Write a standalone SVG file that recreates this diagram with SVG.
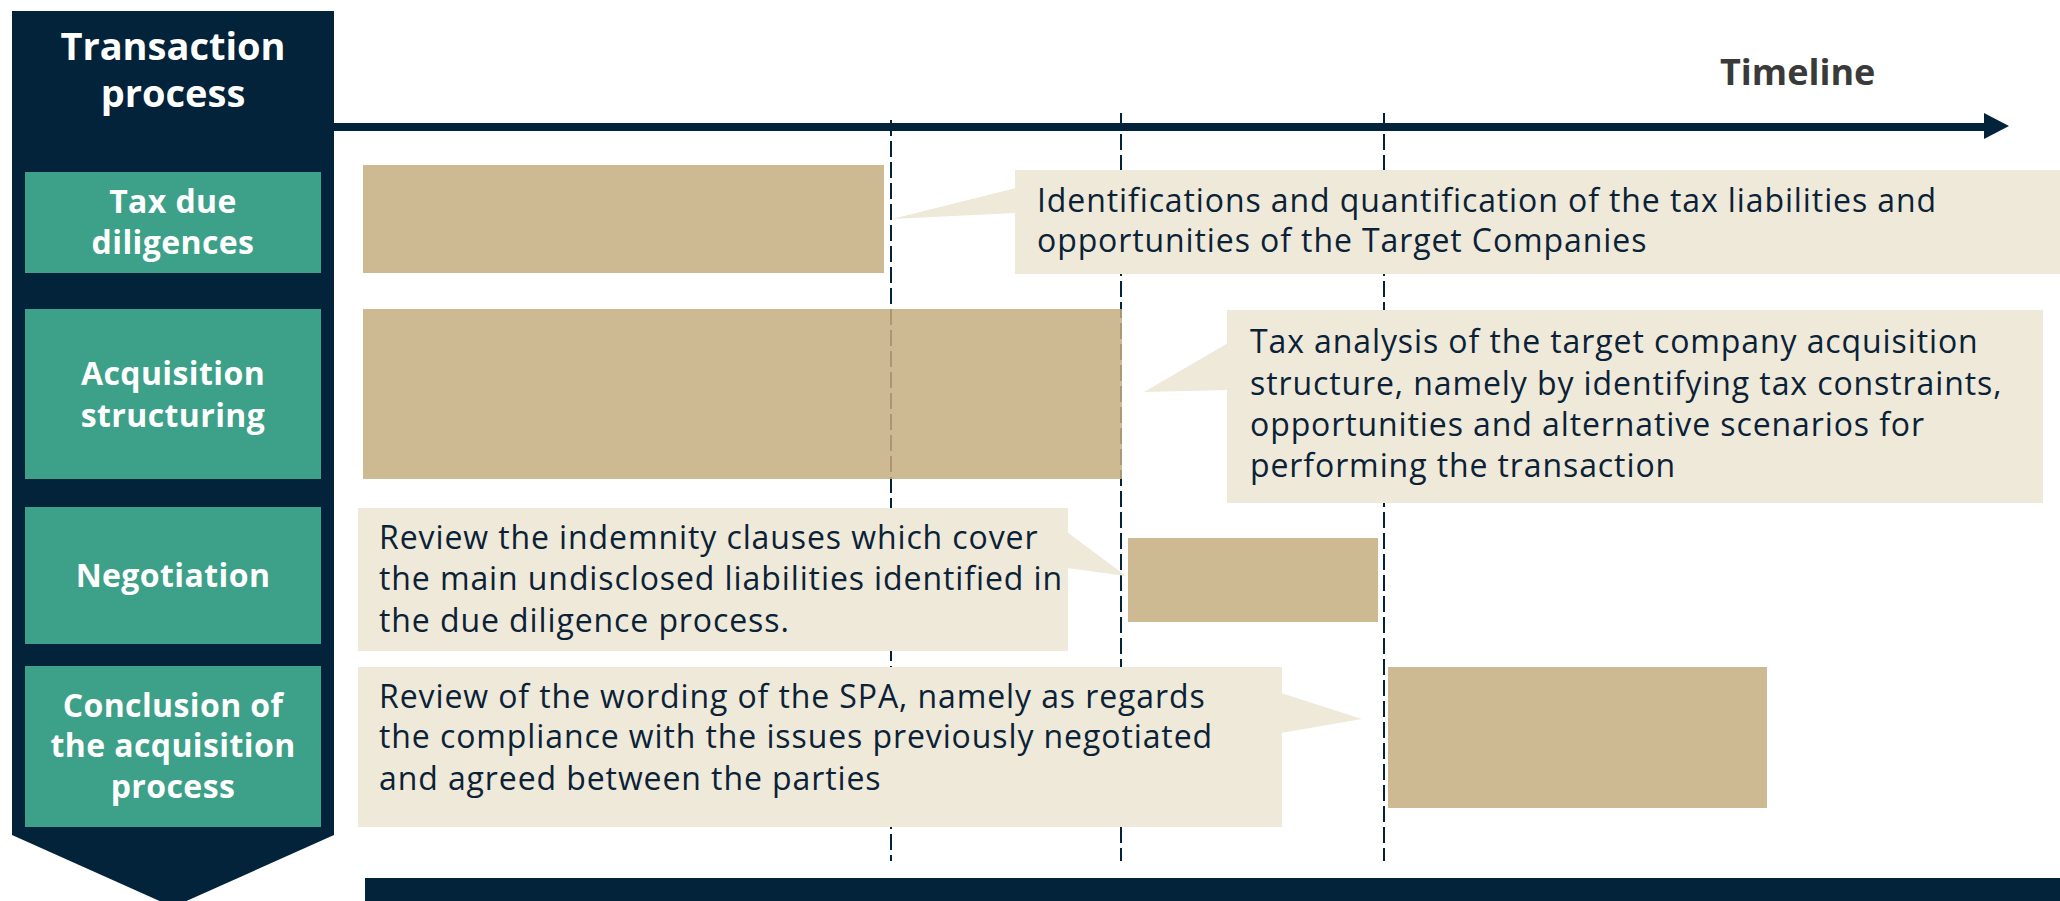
<svg xmlns="http://www.w3.org/2000/svg" width="2060" height="901" viewBox="0 0 2060 901">
<defs>
<style>
.navy{fill:#02233A}
.stage{fill:#3DA089}
.stxt{font-family:"Open Sans","Liberation Sans",sans-serif;font-weight:700;font-size:32px;letter-spacing:0.4px;fill:#FFFFFF;text-anchor:middle}
.htxt{font-family:"Open Sans","Liberation Sans",sans-serif;font-weight:700;font-size:38px;fill:#FFFFFF;text-anchor:middle}
.bar{fill:#C4AE80;fill-opacity:0.85}
.call{fill:#EFE9DA}
.ctxt{font-family:"Open Sans","Liberation Sans",sans-serif;font-size:32px;letter-spacing:0.9px;fill:#0B2236}
.guide{stroke:#02233A;stroke-width:2;stroke-dasharray:16 5;fill:none}
</style>
</defs>
<rect width="2060" height="901" fill="#FFFFFF"/>

<g id="process-panel">
<polygon class="navy" points="12,11 334,11 334,835 173,907 12,835"/>
<text class="htxt" x="173" y="60">Transaction</text>
<text class="htxt" x="173" y="107">process</text>
</g>

<g id="connectors">
<line x1="334" y1="127" x2="1990" y2="127" stroke="#02233A" stroke-width="8"/>
<polygon class="navy" points="1984,113 2009,126 1984,139"/>
<line class="guide" x1="891" y1="120" x2="891" y2="861"/>
<line class="guide" x1="1121" y1="113" x2="1121" y2="861"/>
<line class="guide" x1="1384" y1="113" x2="1384" y2="861"/>
</g>

<g id="timeline-label">
<text x="1720" y="85" font-family="'Open Sans','Liberation Sans',sans-serif" font-weight="700" font-size="36" fill="#3A3A3A">Timeline</text>
</g>

<g id="stage-tax-dd">
<rect class="stage" x="25" y="172" width="296" height="101"/>
<text class="stxt" x="173" y="213">Tax due</text>
<text class="stxt" x="173" y="254">diligences</text>
</g>
<g id="stage-acq">
<rect class="stage" x="25" y="309" width="296" height="170"/>
<text class="stxt" x="173" y="385">Acquisition</text>
<text class="stxt" x="173" y="427">structuring</text>
</g>
<g id="stage-neg">
<rect class="stage" x="25" y="507" width="296" height="137"/>
<text class="stxt" x="173" y="587">Negotiation</text>
</g>
<g id="stage-concl">
<rect class="stage" x="25" y="666" width="296" height="161"/>
<text class="stxt" x="173" y="717">Conclusion of</text>
<text class="stxt" x="173" y="757">the acquisition</text>
<text class="stxt" x="173" y="798">process</text>
</g>

<g id="bar-tax-dd"><rect class="bar" x="363" y="165" width="521" height="108"/></g>
<g id="bar-acq"><rect class="bar" x="363" y="309" width="759" height="170"/></g>
<g id="bar-neg"><rect class="bar" x="1128" y="538" width="250" height="84"/></g>
<g id="bar-concl"><rect class="bar" x="1388" y="667" width="379" height="141"/></g>

<g id="callout-tax-dd">
<rect class="call" x="1015" y="170" width="1045" height="104"/>
<polygon class="call" points="1016,188 892,219 1016,213"/>
<text class="ctxt" x="1037" y="212">Identifications and quantification of the tax liabilities and</text>
<text class="ctxt" x="1037" y="252">opportunities of the Target Companies</text>
</g>

<g id="callout-acq">
<rect class="call" x="1227" y="310" width="816" height="193"/>
<polygon class="call" points="1228,343 1144,392 1228,390"/>
<text class="ctxt" x="1250" y="353">Tax analysis of the target company acquisition</text>
<text class="ctxt" x="1250" y="395">structure, namely by identifying tax constraints,</text>
<text class="ctxt" x="1250" y="436">opportunities and alternative scenarios for</text>
<text class="ctxt" x="1250" y="477">performing the transaction</text>
</g>

<g id="callout-neg">
<rect class="call" x="358" y="508" width="710" height="143"/>
<polygon class="call" points="1067,532 1126,576 1067,568"/>
<text class="ctxt" x="379" y="549">Review the indemnity clauses which cover</text>
<text class="ctxt" x="379" y="590">the main undisclosed liabilities identified in</text>
<text class="ctxt" x="379" y="632">the due diligence process.</text>
</g>

<g id="callout-concl">
<rect class="call" x="358" y="667" width="924" height="160"/>
<polygon class="call" points="1281,693 1362,719 1281,733"/>
<text class="ctxt" x="379" y="708">Review of the wording of the SPA, namely as regards</text>
<text class="ctxt" x="379" y="748">the compliance with the issues previously negotiated</text>
<text class="ctxt" x="379" y="790">and agreed between the parties</text>
</g>

<g id="bottom-bar">
<rect class="navy" x="365" y="878" width="1695" height="23"/>
</g>
</svg>
